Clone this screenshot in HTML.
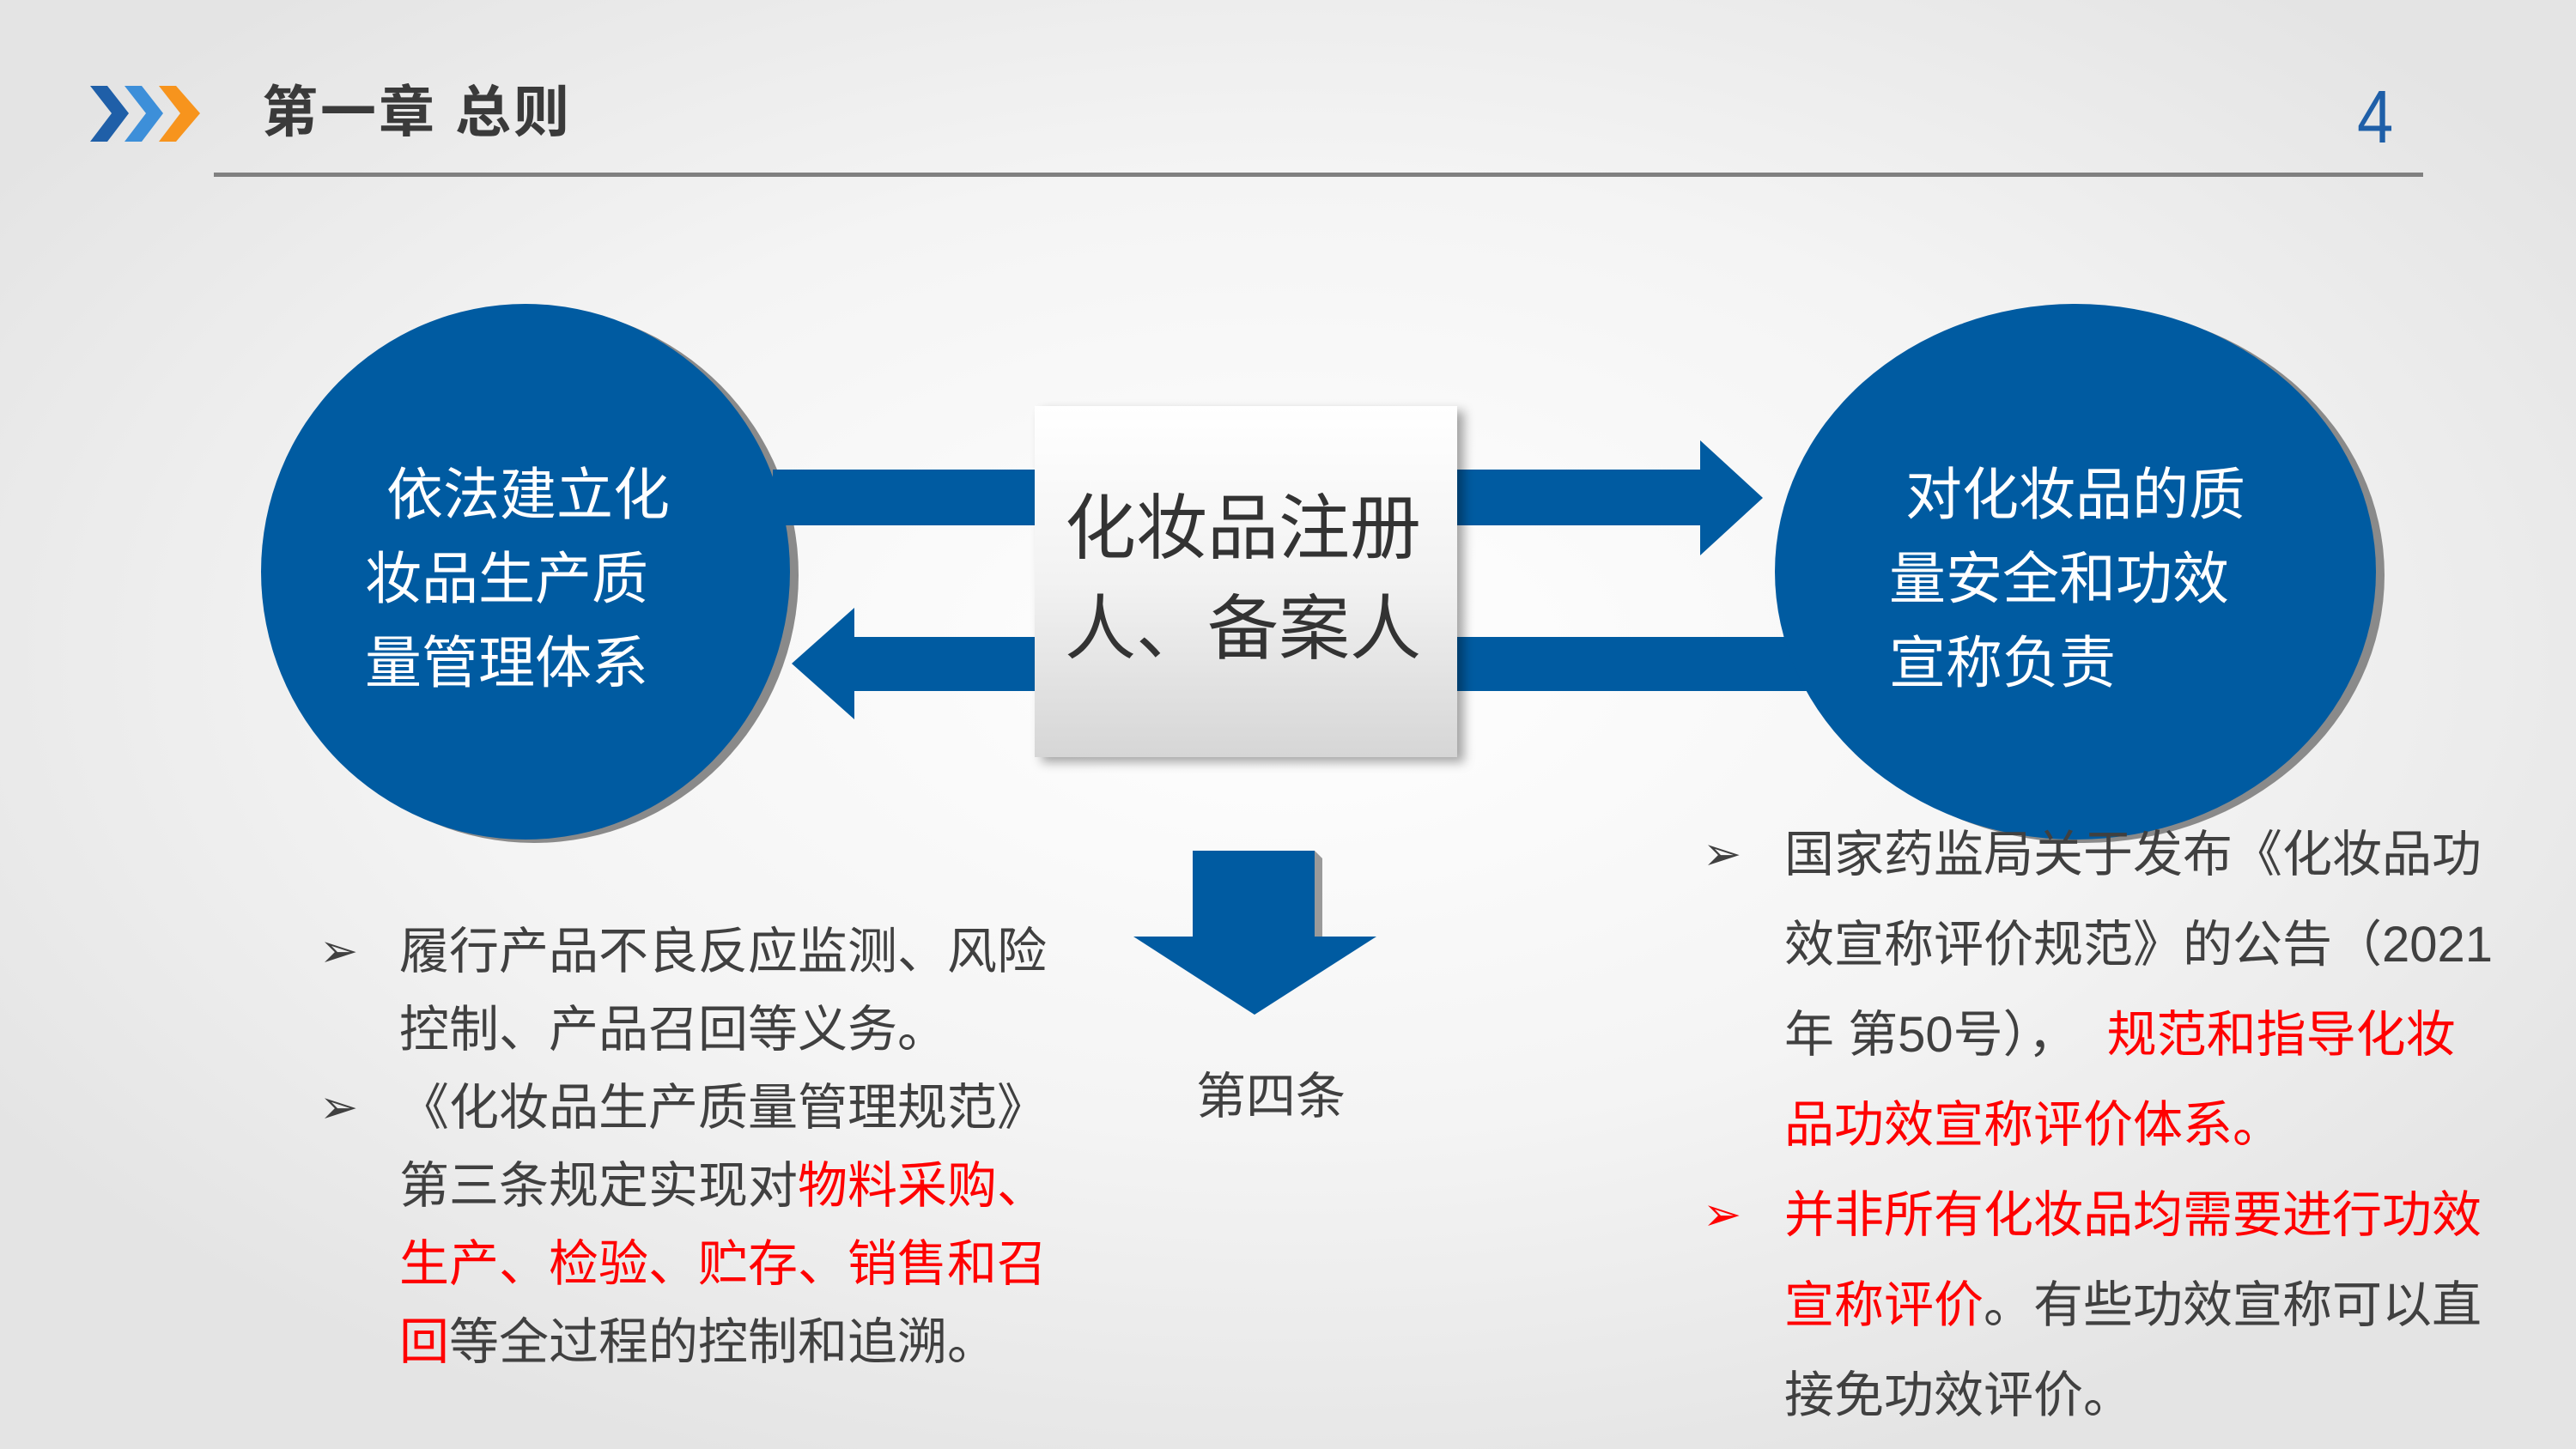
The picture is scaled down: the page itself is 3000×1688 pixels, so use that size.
<!DOCTYPE html>
<html><head><meta charset="utf-8"><style>
html,body{margin:0;padding:0}
body{width:3000px;height:1688px;position:relative;overflow:hidden;
background:radial-gradient(ellipse 60% 60% at 50% 45%,#ffffff 0%,#f4f4f4 55%,#e4e4e4 100%);
font-family:"Liberation Sans","Noto Sans CJK SC",sans-serif;}
.t{position:absolute;white-space:nowrap;}
.r{color:#ff0000}
</style></head><body>
<svg width="3000" height="1688" style="position:absolute;left:0;top:0">
<defs>
<linearGradient id="box" x1="0" y1="0" x2="0" y2="1">
<stop offset="0" stop-color="#ffffff"/><stop offset="0.5" stop-color="#f2f2f2"/><stop offset="1" stop-color="#d6d6d6"/>
</linearGradient>
<filter id="sh" x="-10%" y="-10%" width="130%" height="130%"><feDropShadow dx="8" dy="6" stdDeviation="6" flood-color="#000" flood-opacity="0.35"/></filter>
</defs>
<polygon points="105,100 125,100 150,132 125,165 105,165 130,132" fill="#1f5fa8"/>
<polygon points="145,100 165,100 190,132 165,165 145,165 170,132" fill="#3d8fd9"/>
<polygon points="185,100 205,100 233,132 205,165 185,165 210,132" fill="#f7941d"/>
<rect x="249" y="201" width="2573" height="5" fill="#808080"/>
<ellipse cx="622" cy="670" rx="308" ry="312" fill="#8a8a8a"/>
<ellipse cx="612" cy="666" rx="308" ry="312" fill="#005ba1"/>
<polygon points="900,547 1980,547 1980,513 2053,580 1980,647 1980,612 900,612" fill="#005ba1"/>
<polygon points="2120,742 995,742 995,708 922,773 995,838 995,805 2120,805" fill="#005ba1"/>
<ellipse cx="2427" cy="670" rx="350" ry="312" fill="#8a8a8a"/>
<ellipse cx="2417" cy="666" rx="350" ry="312" fill="#005ba1"/>
<rect x="1205" y="473" width="492" height="409" fill="url(#box)" filter="url(#sh)"/>
<polygon points="1389,991 1531,991 1531,1091 1603,1091 1461,1182 1320,1091 1389,1091" fill="#005ba1"/>
<polygon points="1531,991 1540,1000 1540,1091 1531,1091" fill="#9a9a9a"/>
</svg>
<div class="t" style="left:305px;top:86px;font-size:65px;letter-spacing:3px;font-weight:bold;color:#3a3a3a;line-height:90px">第一章 总则</div>
<div class="t" style="left:2745px;top:92px;font-size:76px;color:#1f5fa8;line-height:90px;transform:scaleY(1.15);font-weight:300">4</div>
<div class="t" style="left:450px;top:527px;font-size:66px;color:#fff;line-height:98px">依法建立化</div>
<div class="t" style="left:425px;top:625px;font-size:66px;color:#fff;line-height:98px">妆品生产质<br>量管理体系</div>
<div class="t" style="left:2219px;top:527px;font-size:66px;color:#fff;line-height:98px">对化妆品的质</div>
<div class="t" style="left:2200px;top:625px;font-size:66px;color:#fff;line-height:98px">量安全和功效<br>宣称负责</div>
<div class="t" style="left:1240px;top:557px;font-size:83px;color:#333;line-height:117px">化妆品注册<br>人、备案人</div>
<div class="t" style="left:1393px;top:1240px;font-size:58px;color:#404040;line-height:76px">第四条</div>
<div class="t" style="left:372px;top:1063px;font-size:54px;color:#404040;line-height:91px">➢<br><br>➢</div>
<div class="t" style="left:465px;top:1063px;font-size:58px;color:#404040;line-height:91px">履行产品不良反应监测、风险<br>控制、产品召回等义务。<br>《化妆品生产质量管理规范》<br>第三条规定实现对<span class="r">物料采购、</span><br><span class="r">生产、检验、贮存、销售和召</span><br><span class="r">回</span>等全过程的控制和追溯。</div>
<div class="t" style="left:1983px;top:943px;font-size:54px;color:#404040;line-height:105px">➢<br><br><br><br><span class="r">➢</span></div>
<div class="t" style="left:2078px;top:943px;font-size:58px;color:#404040;line-height:105px">国家药监局关于发布《化妆品功<br>效宣称评价规范》的公告（2021<br>年 第50号），<span style="display:inline-block;width:34px"></span><span class="r">规范和指导化妆</span><br><span class="r">品功效宣称评价体系。</span><br><span class="r">并非所有化妆品均需要进行功效</span><br><span class="r">宣称评价</span>。有些功效宣称可以直<br>接免功效评价。</div>
</body></html>
